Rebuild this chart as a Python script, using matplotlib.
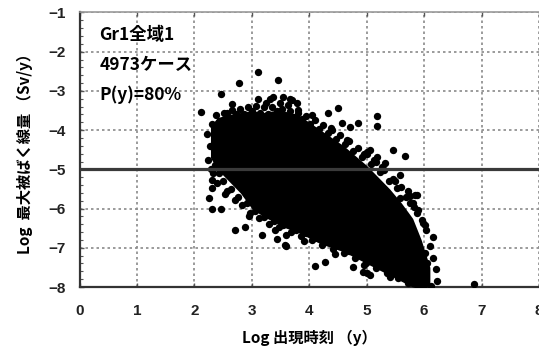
import matplotlib
matplotlib.use("Agg")
import matplotlib.pyplot as plt
import numpy as np
from matplotlib.patches import Rectangle

plt.rcParams['font.family'] = ['Noto Sans CJK JP', 'DejaVu Sans']
plt.rcParams['axes.unicode_minus'] = True

# dense part of the cloud: column positions with upper/lower envelope
core_x = [2.28, 2.4, 2.6, 2.8, 3.0, 3.2, 3.4, 3.6, 3.8, 4.0, 4.2, 4.4,
          4.6, 4.8, 5.0, 5.2, 5.4, 5.6, 5.8, 5.95, 6.1]
core_hi = [-3.9, -3.68, -3.6, -3.55, -3.5, -3.55, -3.5, -3.55, -3.6, -3.8,
           -4.0, -4.2, -4.4, -4.65, -4.9, -5.2, -5.5, -5.85, -6.25, -6.8, -7.5]
core_lo = [-4.7, -5.0, -5.3, -5.6, -6.0, -6.2, -6.35, -6.5, -6.6, -6.75,
           -6.9, -7.0, -7.1, -7.25, -7.4, -7.55, -7.7, -7.85, -8.0, -8.0, -8.0]

# individual cases around the cloud (log time, log dose)
pts_x = [3.10, 2.78, 2.46, 3.10, 2.12, 2.57, 3.32, 3.46, 3.37, 3.54, 3.70,
         3.81, 4.33, 4.50, 4.57, 4.71, 4.85, 5.18, 5.18, 5.46, 5.67, 5.01,
         5.18, 5.32, 5.58, 2.66, 3.49, 3.67, 3.79, 5.06, 5.12, 5.88, 5.76,
         5.58, 5.41, 5.88, 2.48, 2.33, 2.31, 2.31, 2.26, 2.31, 2.47, 2.71,
         2.88, 3.18, 3.44, 3.60, 3.60, 4.10, 4.28, 4.77, 4.94, 5.06, 5.41,
         6.16, 6.02, 6.23, 6.86, 6.02, 6.05, 5.93, 5.84, 3.58, 5.01, 5.98,
         5.80,
         # upper fringe
         2.30, 2.38, 2.42, 2.52, 2.58, 2.66, 2.72, 2.80, 2.87, 2.93, 3.00,
         3.07, 3.14, 3.22, 3.28, 3.36, 3.43, 3.52, 3.58, 3.66, 3.72, 3.80,
         3.88, 3.95, 4.02, 4.10, 4.17, 4.24, 4.32, 4.40, 4.47, 4.54, 4.62,
         4.70, 4.77, 4.85, 4.92, 5.00, 5.08, 5.16, 5.24, 5.31, 5.38, 5.46,
         5.53, 5.60, 5.68, 5.75, 5.82, 5.90, 5.97, 6.04, 6.10, 6.16, 6.20,
         3.25, 3.63, 4.05, 4.38, 4.66, 4.96, 5.27, 5.50, 5.72,
         # lower fringe
         2.22, 2.27, 2.24, 2.29, 2.36, 2.42, 2.39, 2.50, 2.56, 2.53, 2.63,
         2.70, 2.76, 2.83, 2.92, 2.97, 3.05, 3.12, 3.22, 3.30, 3.38, 3.48,
         3.55, 3.68, 3.77, 3.86, 3.95, 4.05, 4.13, 4.22, 4.33, 4.42, 4.52,
         4.60, 4.70, 4.80, 4.88, 4.98, 5.08, 5.17, 5.27, 5.36, 5.46, 5.55,
         5.64, 5.72, 5.80, 5.88, 6.00, 6.12,
         2.95, 3.40, 3.90, 4.45, 4.95]
pts_y = [-2.52, -2.80, -3.08, -3.20, -3.54, -3.56, -3.20, -2.72, -3.15, -3.15,
         -3.23, -3.49, -3.57, -3.44, -3.82, -3.92, -3.82, -3.64, -3.90, -4.51,
         -4.66, -4.56, -4.69, -4.84, -5.15, -3.34, -3.32, -3.21, -3.32, -4.51,
         -4.77, -5.66, -5.87, -5.74, -5.96, -6.12, -4.82, -5.10, -5.27, -5.48,
         -5.74, -6.01, -6.01, -6.55, -6.47, -6.67, -6.78, -6.67, -6.95, -7.47,
         -7.36, -7.49, -7.62, -7.69, -7.74, -6.73, -6.42, -7.84, -7.92, -7.13,
         -7.38, -7.92, -5.66, -6.93, -7.65, -6.37, -5.87,
         # upper fringe
         -3.85, -3.62, -3.78, -3.55, -3.68, -3.48, -3.60, -3.45, -3.58, -3.40,
         -3.52, -3.38, -3.55, -3.42, -3.60, -3.40, -3.50, -3.46, -3.62, -3.50,
         -3.66, -3.55, -3.72, -3.64, -3.85, -3.74, -3.98, -3.88, -4.06, -4.00,
         -4.22, -4.12, -4.36, -4.28, -4.52, -4.46, -4.68, -4.62, -4.86, -4.82,
         -5.06, -5.02, -5.30, -5.24, -5.48, -5.44, -5.70, -5.68, -5.96, -6.04,
         -6.30, -6.55, -6.95, -7.25, -7.55,
         -3.30, -3.35, -3.62, -3.95, -4.25, -4.60, -4.95, -5.30, -5.55,
         # lower fringe
         -4.10, -4.40, -4.75, -5.00, -4.88, -5.10, -5.35, -5.30, -5.55, -5.62,
         -5.50, -5.78, -5.70, -5.92, -5.85, -6.10, -6.05, -6.25, -6.22, -6.40,
         -6.32, -6.48, -6.42, -6.60, -6.55, -6.70, -6.62, -6.80, -6.74, -6.92,
         -6.86, -7.02, -6.96, -7.12, -7.08, -7.25, -7.18, -7.38, -7.30, -7.52,
         -7.46, -7.64, -7.58, -7.78, -7.72, -7.90, -7.84, -7.96, -7.95, -7.97,
         -6.20, -6.55, -6.82, -7.15, -7.45]

limit_line = -5.0
info_lines = ['Gr1全域1', '4973ケース', 'P(y)=80%']

fig = plt.figure(figsize=(5.39, 3.57), dpi=100)
ax = fig.add_axes([0.1475, 0.196, 0.8525, 0.769])

ax.set_xlim(0, 8)
ax.set_ylim(-8, -1)
ax.set_xticks(range(0, 9))
ax.set_yticks(range(-8, 0))
ax.set_yticks(np.arange(-8, -1, 0.2), minor=True)

ax.grid(True, which='major', color='#8a8a8a', linestyle=(0, (1.5, 1.8)),
        linewidth=1.2, zorder=1)

# white panel under the annotation
ax.add_patch(Rectangle((0, -3.5), 2.24, 2.5, facecolor='white',
                       edgecolor='none', zorder=1.5))

ax.fill_between(core_x, core_lo, core_hi, color='black', lw=0, zorder=3)
ax.scatter(pts_x, pts_y, s=28, marker='o', color='black', lw=0, zorder=3)

ax.axhline(limit_line, color='#3a3a3a', lw=2.3, zorder=4)

for i, t in enumerate(info_lines):
    ax.text(0.35, -1.57 - 0.76 * i, t, fontsize=12.5, fontweight='bold',
            va='center', ha='left', zorder=5)

for s in ['left', 'bottom']:
    ax.spines[s].set_color('#333333')
    ax.spines[s].set_linewidth(1.6)
ax.spines['top'].set_color('#999999')
ax.spines['top'].set_linewidth(1.2)
ax.spines['right'].set_visible(False)

ax.tick_params(which='both', direction='in', top=True, right=False,
               color='#555555')
ax.tick_params(which='major', length=3, width=1)
ax.tick_params(which='minor', length=2, width=0.8, top=False)
ax.tick_params(axis='x', pad=12)
ax.tick_params(axis='y', pad=10)
for lab in ax.get_xticklabels() + ax.get_yticklabels():
    lab.set_family(['Liberation Sans', 'DejaVu Sans'])
    lab.set_fontweight('bold')
    lab.set_fontsize(11)
    lab.set_color('#222222')

ax.set_xlabel('Log 出現時刻 （y）', fontsize=11, fontweight='bold', labelpad=9)
ax.set_ylabel('Log  最大被ばく線量 （Sv/y）', fontsize=11, fontweight='bold',
              labelpad=11)

fig.savefig('out.png', dpi=100)
